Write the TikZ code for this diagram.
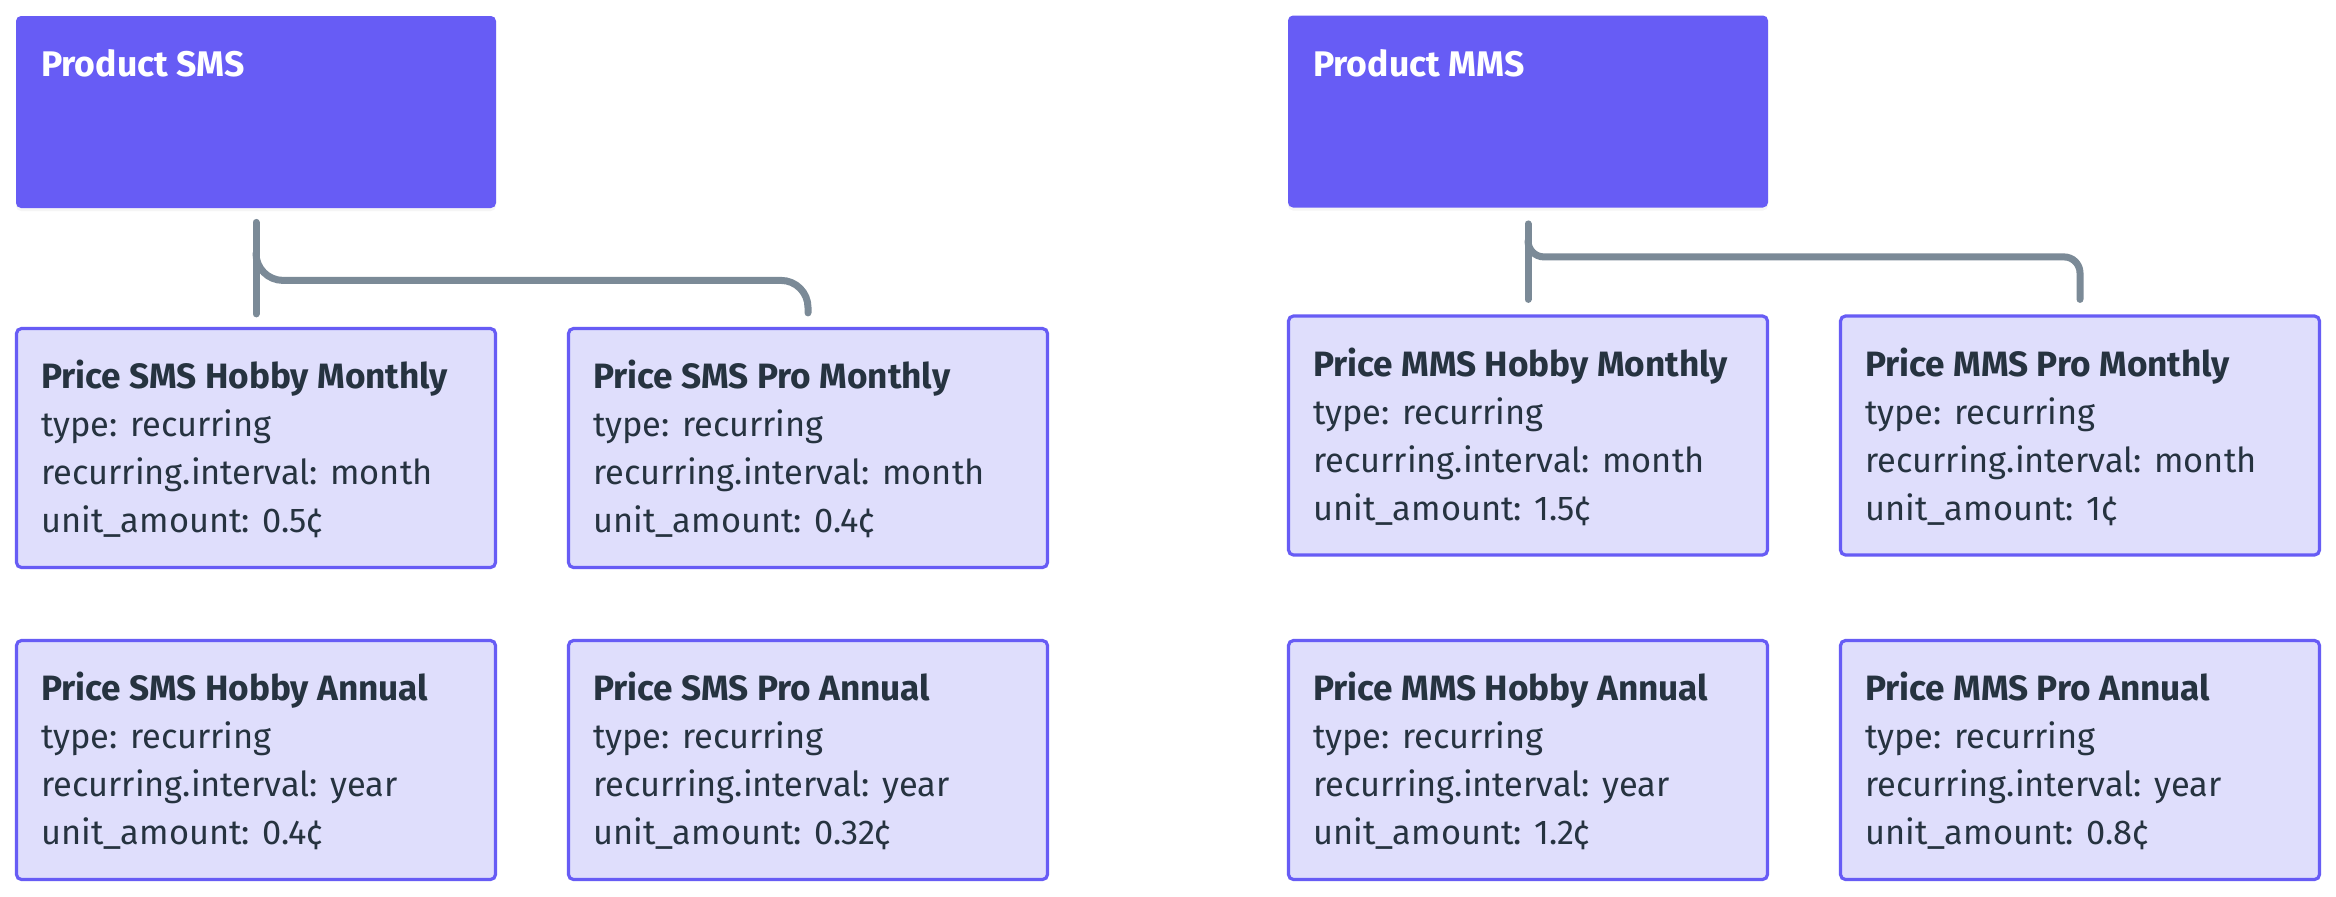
\documentclass[tikz,border=0pt]{standalone}
\usepackage{fontspec}
\setmainfont{Fira Sans}
\usetikzlibrary{calc,shadows}
\definecolor{prod}{HTML}{675CF5}
\definecolor{pricefill}{HTML}{DFDEFC}
\definecolor{txt}{HTML}{263340}
\definecolor{linkc}{HTML}{7B8A97}
\tikzset{
  prodbox/.style={rectangle, rounded corners=2.5pt, fill=prod, minimum width=240pt, minimum height=96pt, inner sep=0pt,
    drop shadow={shadow xshift=0pt, shadow yshift=-1.5pt, opacity=0.08}},
  pricebox/.style={rectangle, rounded corners=2.5pt, draw=prod, line width=1.6pt, fill=pricefill,
    minimum width=239.5pt, minimum height=119.5pt, inner sep=0pt},
  boxtext/.style={anchor=base west, inner sep=0pt, text=txt, font=\fontsize{17.2}{24}\selectfont},
  link/.style={draw=linkc, line width=3.5pt, line cap=round},
}
\newcommand\titlefont{\fontsize{17.6}{24}\selectfont\bfseries}
\newcommand\pricenode[6]{%
  \node[pricebox] (#1) at (#2,#3) {};
  \node[boxtext] (#1-t) at ($(#1.north west)+(26,62)$)
    {\parbox[t]{232pt}{\baselineskip=24pt{\titlefont #4}\\type: recurring\\recurring.interval: #5\\unit\_amount: #6}};
}
\begin{document}
\begin{tikzpicture}[x=0.5pt,y=-0.5pt]
  \fill[white] (0,0) rectangle (2336,896);
  \useasboundingbox (0,0) rectangle (2336,896);

  % SMS side
  \node[prodbox] (psms) at (256,112) {};
  \node[boxtext, text=white, font=\fontsize{17.8}{24}\selectfont\bfseries] (psms-t) at ($(psms.north west)+(25,61)$) {Product SMS};
  \pricenode{shm}{256}{448}{Price SMS Hobby Monthly}{month}{0.5¢}
  \pricenode{spm}{808}{448}{Price SMS Pro Monthly}{month}{0.4¢}
  \pricenode{sha}{256}{760}{Price SMS Hobby Annual}{year}{0.4¢}
  \pricenode{spa}{808}{760}{Price SMS Pro Annual}{year}{0.32¢}

  % MMS side
  \node[prodbox] (pmms) at (1528,111.5) {};
  \node[boxtext, text=white, font=\fontsize{17.8}{24}\selectfont\bfseries] (pmms-t) at ($(pmms.north west)+(25,61)$) {Product MMS};
  \pricenode{mhm}{1528}{435.5}{Price MMS Hobby Monthly}{month}{1.5¢}
  \pricenode{mpm}{2080}{435.5}{Price MMS Pro Monthly}{month}{1¢}
  \pricenode{mha}{1528}{760}{Price MMS Hobby Annual}{year}{1.2¢}
  \pricenode{mpa}{2080}{760}{Price MMS Pro Annual}{year}{0.8¢}

  % SMS connectors
  \coordinate (sj) at ($(psms.south)+(0,72)$);
  \draw[link] ($(psms.south)+(0,14)$) -- ($(shm.north)+(0,-13)$);
  \draw[link] ($(psms.south)+(0,45)$) [rounded corners=13.5pt] -- (sj) -- (sj -| spm.north) [rounded corners=7.5pt] -- ($(spm.north)+(0,-14)$);

  % MMS connectors
  \coordinate (mj) at ($(pmms.south)+(0,49)$);
  \draw[link] ($(pmms.south)+(0,16)$) -- ($(mhm.north)+(0,-15)$);
  \draw[link] ($(pmms.south)+(0,33)$) [rounded corners=8pt] -- (mj) -- (mj -| mpm.north) [rounded corners=9pt] -- ($(mpm.north)+(0,-15)$);
\end{tikzpicture}
\end{document}
